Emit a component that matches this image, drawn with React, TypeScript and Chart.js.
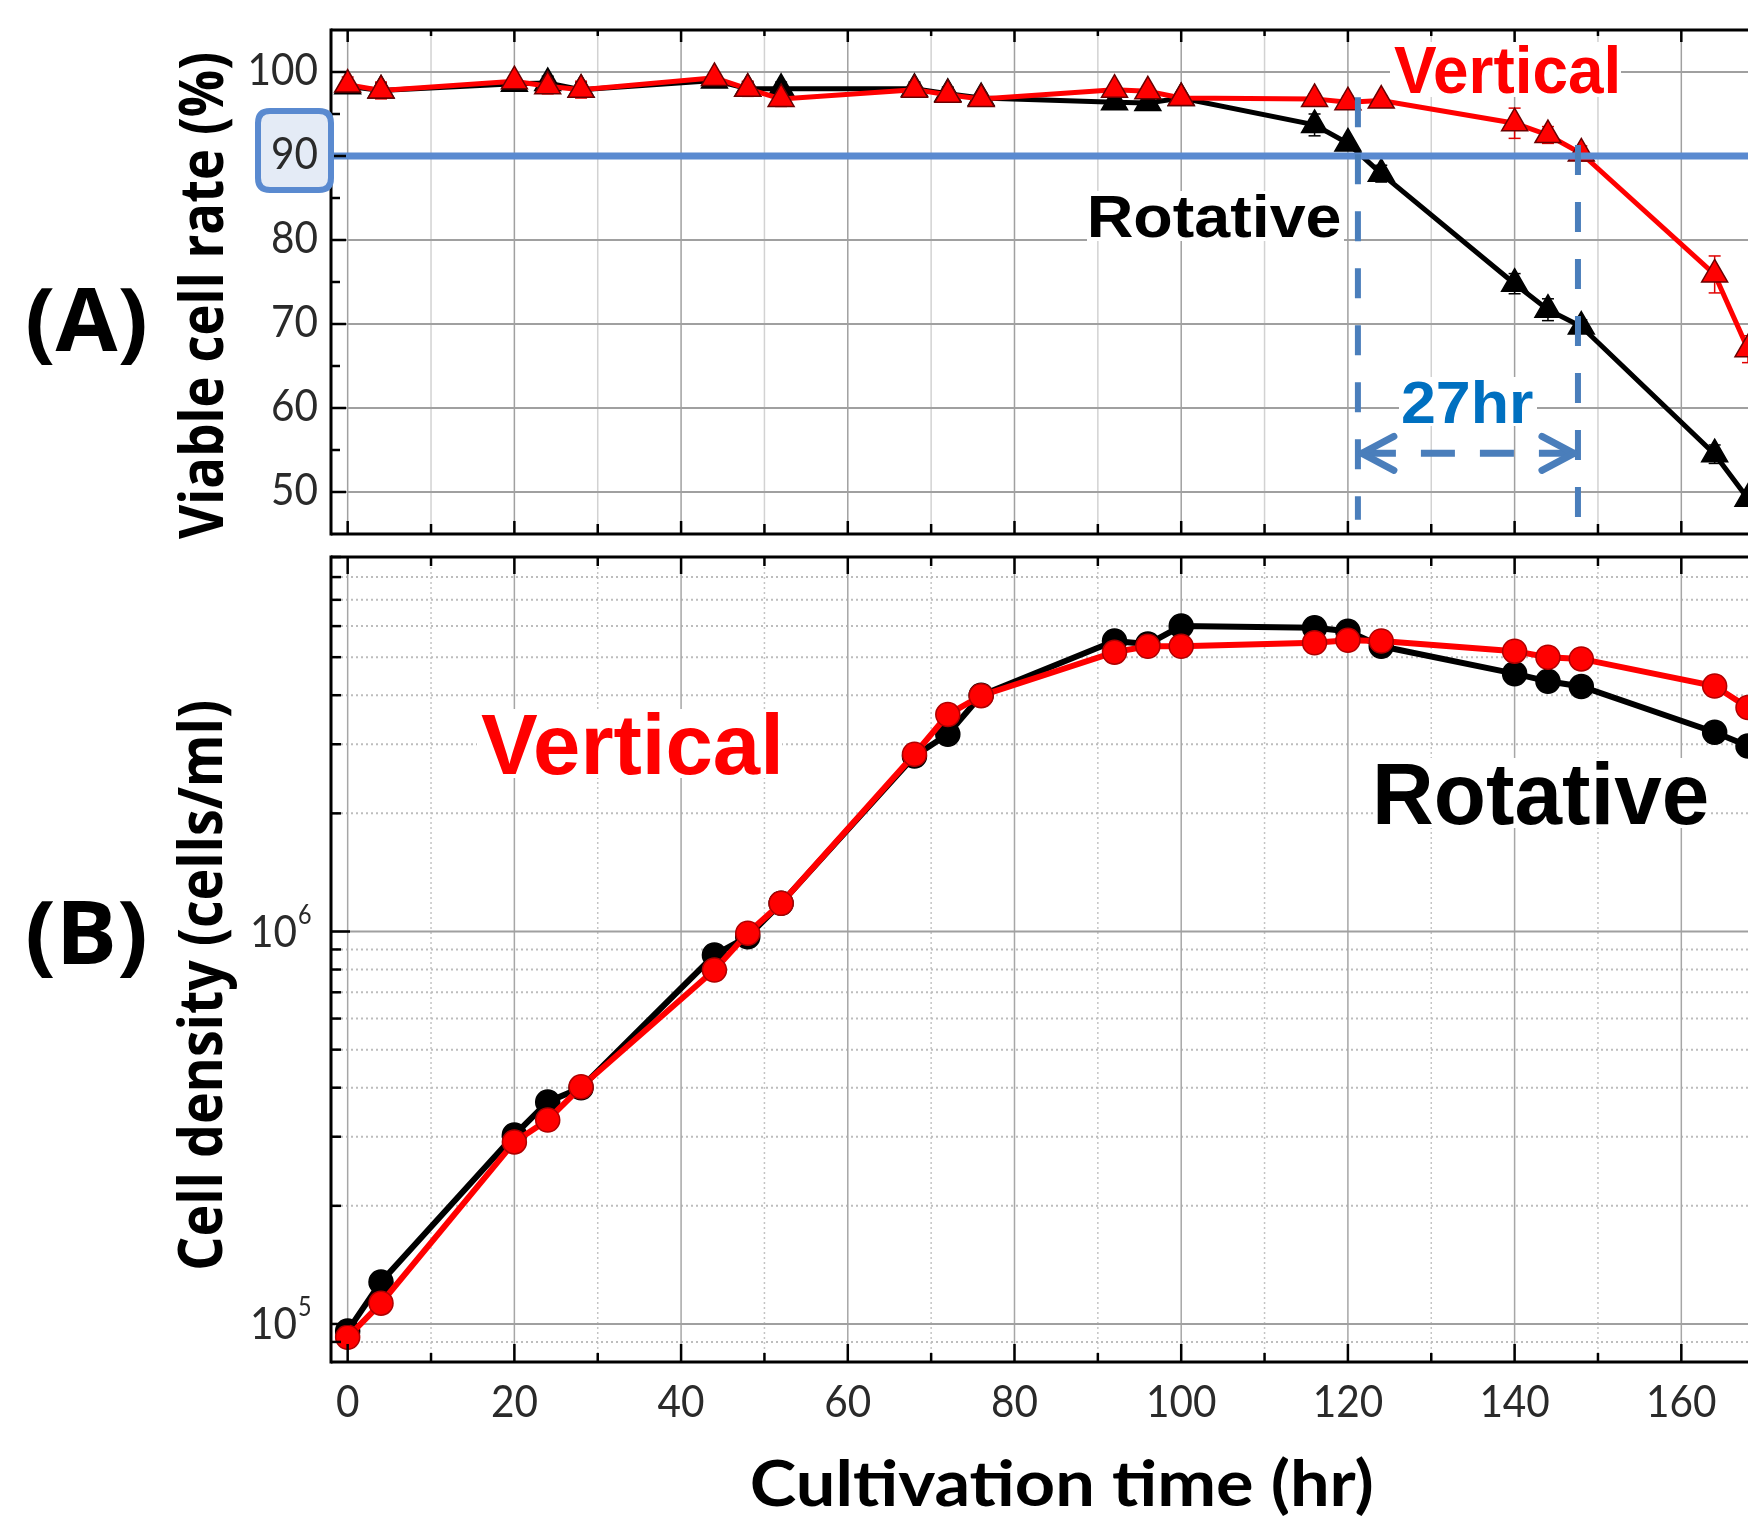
import React, { useEffect, useRef } from "react";
import { Chart, registerables } from "chart.js";

Chart.register(...registerables);

// ---------------- data ----------------
const hours = [0, 4, 20, 24, 28, 44, 48, 52, 68, 72, 76, 92, 96, 100, 116, 120, 124, 140, 144, 148, 164, 168];

const viabVertical = [98.5, 97.8, 98.9, 98.3, 97.9, 99.3, 98.0, 96.8, 97.9, 97.3, 96.8, 97.9, 97.7, 96.9, 96.8, 96.4, 96.6, 93.9, 92.5, 90.3, 75.9, 67.0];
const viabVerticalErr = [0.9, 1.0, 0.5, 0.9, 1.0, 0.6, 0.9, 0.9, 0.6, 0.6, 0.7, 0.5, 0.6, 0.5, 0.6, 0.7, 0.6, 1.8, 1.0, 0.9, 2.2, 1.6];
const viabRotative = [98.3, 97.8, 98.6, 98.7, 97.9, 99.0, 98.0, 98.0, 98.0, 97.4, 96.9, 96.4, 96.3, 96.9, 93.7, 91.5, 87.9, 74.8, 71.7, 69.7, 54.5, 49.2];
const viabRotativeErr = [0.5, 0.9, 0.5, 0.8, 0.8, 0.6, 0.8, 0.8, 0.8, 0.8, 0.6, 0.8, 0.8, 0.5, 1.3, 0.6, 1.0, 1.2, 1.3, 0.8, 1.1, 0.8];

const densVertical = [9.25e4, 1.13e5, 2.91e5, 3.31e5, 4.02e5, 7.98e5, 9.9e5, 1.18e6, 2.83e6, 3.57e6, 3.99e6, 5.15e6, 5.33e6, 5.33e6, 5.44e6, 5.52e6, 5.5e6, 5.18e6, 5.0e6, 4.95e6, 4.22e6, 3.72e6];
const densRotative = [9.6e4, 1.28e5, 3.03e5, 3.68e5, 4.0e5, 8.71e5, 9.7e5, 1.18e6, 2.8e6, 3.18e6, 4.0e6, 5.5e6, 5.4e6, 6.0e6, 5.94e6, 5.82e6, 5.33e6, 4.54e6, 4.34e6, 4.21e6, 3.22e6, 2.97e6];

const xMajorTicks = [0, 20, 40, 60, 80, 100, 120, 140, 160];
const xTickLabels = ["0", "20", "40", "60", "80", "100", "120", "140", "160"];
const xMinorTicks = [10, 30, 50, 70, 90, 110, 130, 150];

const viabTicks = [50, 60, 70, 80, 90, 100];
const viabTickLabels = ["50", "60", "70", "80", "90", "100"];
const viabMinorTicks = [55, 65, 75, 85, 95];

const densMajorTicks = [1e5, 1e6];
const densTickBase = ["10", "10"];
const densTickExp = ["5", "6"];
const densMinorTicks = [9e4, 2e5, 3e5, 4e5, 5e5, 6e5, 7e5, 8e5, 9e5, 2e6, 3e6, 4e6, 5e6, 6e6, 7e6, 8e6, 9e6];

const threshold = 90;
const crossRotative = 121.2;
const crossVertical = 147.6;
const dashTopRotative = 97;
const dashTopVertical = 91.3;
const dashBottom = 46.7;
const arrowLevel = 54.6;
const gapLabel = "27hr";

// ---------------- styling ----------------
const RED = "#ff0000";
const BLACK = "#000000";
const BLUE = "#5a8ad0";
const DASH_BLUE = "#4a7ebb";
const TEXT_BLUE = "#0070c0";
const TOP_B = 545;
const BOLD_SANS = '"Liberation Sans", Arial, sans-serif';
const TITLE_FONT = '"Open Sans", "DejaVu Sans", sans-serif';
const TICK_FONT = 'Lato, "Open Sans", sans-serif';
const TICK_COLOR = "#2a2a2a";

function seg(ctx: CanvasRenderingContext2D, x1: number, y1: number, x2: number, y2: number, color: string, width: number, dash: number[] = [], cap: CanvasLineCap = "butt") {
  ctx.save();
  ctx.strokeStyle = color;
  ctx.lineWidth = width;
  ctx.lineCap = cap;
  ctx.setLineDash(dash);
  ctx.beginPath();
  ctx.moveTo(x1, y1);
  ctx.lineTo(x2, y2);
  ctx.stroke();
  ctx.restore();
}

function fitText(ctx: CanvasRenderingContext2D, text: string, font: string, color: string, x0: number, x1: number, baseline: number, bg = false) {
  ctx.save();
  ctx.font = font;
  ctx.textAlign = "left";
  ctx.textBaseline = "alphabetic";
  const m = ctx.measureText(text);
  const w = m.actualBoundingBoxLeft + m.actualBoundingBoxRight;
  const s = (x1 - x0) / w;
  if (bg) {
    ctx.fillStyle = "#ffffff";
    ctx.fillRect(x0 - 4, baseline - m.actualBoundingBoxAscent - 3, x1 - x0 + 8, m.actualBoundingBoxAscent + m.actualBoundingBoxDescent + 6);
  }
  ctx.translate(x0, baseline);
  ctx.scale(s, 1);
  ctx.fillStyle = color;
  ctx.fillText(text, m.actualBoundingBoxLeft, 0);
  ctx.restore();
}

function fitTextV(ctx: CanvasRenderingContext2D, text: string, font: string, color: string, baseX: number, yStart: number, yEnd: number) {
  ctx.save();
  ctx.font = font;
  ctx.textAlign = "left";
  ctx.textBaseline = "alphabetic";
  const m = ctx.measureText(text);
  const w = m.actualBoundingBoxLeft + m.actualBoundingBoxRight;
  const s = (yStart - yEnd) / w;
  ctx.translate(baseX, yStart);
  ctx.rotate(-Math.PI / 2);
  ctx.scale(s, 1);
  ctx.fillStyle = color;
  ctx.fillText(text, m.actualBoundingBoxLeft, 0);
  ctx.restore();
}

// tick label, slightly condensed like the reference
function tickText(ctx: CanvasRenderingContext2D, text: string, size: number, x: number, y: number, align: "left" | "right" | "center") {
  ctx.save();
  ctx.font = `${size}px ${TICK_FONT}`;
  ctx.fillStyle = TICK_COLOR;
  ctx.textAlign = "left";
  ctx.textBaseline = "alphabetic";
  const sx = 0.9;
  const w = ctx.measureText(text).width * sx;
  const left = align === "left" ? x : align === "right" ? x - w : x - w / 2;
  ctx.translate(left, y);
  ctx.scale(sx, 1);
  ctx.fillText(text, 0, 0);
  ctx.restore();
}

function roundBox(ctx: CanvasRenderingContext2D, x: number, y: number, w: number, h: number, r: number, fill: string, stroke: string, lw: number) {
  ctx.save();
  ctx.beginPath();
  ctx.moveTo(x + r, y);
  ctx.lineTo(x + w - r, y);
  ctx.quadraticCurveTo(x + w, y, x + w, y + r);
  ctx.lineTo(x + w, y + h - r);
  ctx.quadraticCurveTo(x + w, y + h, x + w - r, y + h);
  ctx.lineTo(x + r, y + h);
  ctx.quadraticCurveTo(x, y + h, x, y + h - r);
  ctx.lineTo(x, y + r);
  ctx.quadraticCurveTo(x, y, x + r, y);
  ctx.closePath();
  ctx.fillStyle = fill;
  ctx.fill();
  ctx.strokeStyle = stroke;
  ctx.lineWidth = lw;
  ctx.stroke();
  ctx.restore();
}

// ---------------- panel A plugin ----------------
const panelAPlugin = {
  id: "panelA",
  beforeDatasetsDraw(chart: any) {
    const { ctx, chartArea: ca } = chart;
    const x = chart.scales.x;
    const y = chart.scales.y;
    for (const v of xMinorTicks) {
      const px = x.getPixelForValue(v);
      seg(ctx, px, ca.top, px, ca.bottom, "#d2d2d2", 1.5);
    }
    for (const v of xMajorTicks) {
      const px = x.getPixelForValue(v);
      seg(ctx, px, ca.top, px, ca.bottom, "#a0a0a0", 1.5);
    }
    for (const v of viabTicks) {
      const py = y.getPixelForValue(v);
      seg(ctx, ca.left, py, ca.right, py, "#a0a0a0", 2);
    }
    fitText(ctx, "Vertical", `bold 66px ${BOLD_SANS}`, RED, 1394, 1617, 93, true);
    fitText(ctx, "Rotative", `bold 60px ${BOLD_SANS}`, BLACK, 1091, 1340, 237, true);
    fitText(ctx, gapLabel, `bold 60px ${BOLD_SANS}`, TEXT_BLUE, 1403, 1533, 423, true);
    const sets: [number[], number[], string][] = [
      [viabRotative, viabRotativeErr, "#000000"],
      [viabVertical, viabVerticalErr, "#e00000"],
    ];
    for (const [vals, errs, col] of sets) {
      hours.forEach((h, j) => {
        const px = x.getPixelForValue(h);
        const yt = y.getPixelForValue(vals[j] + errs[j]);
        const yb = y.getPixelForValue(vals[j] - errs[j]);
        seg(ctx, px, yt, px, yb, col, 1.5);
        seg(ctx, px - 6, yt, px + 6, yt, col, 1.5);
        seg(ctx, px - 6, yb, px + 6, yb, col, 1.5);
      });
    }
  },
  afterDatasetsDraw(chart: any) {
    const { ctx, chartArea: ca } = chart;
    const x = chart.scales.x;
    const y = chart.scales.y;
    const py90 = y.getPixelForValue(threshold);
    seg(ctx, ca.left, py90, ca.right, py90, BLUE, 7);
    const xr = x.getPixelForValue(crossRotative);
    const xv = x.getPixelForValue(crossVertical);
    seg(ctx, xr, y.getPixelForValue(dashTopRotative), xr, y.getPixelForValue(dashBottom), DASH_BLUE, 6, [30, 27]);
    seg(ctx, xv, y.getPixelForValue(dashTopVertical), xv, y.getPixelForValue(dashBottom), DASH_BLUE, 6, [30, 27]);
    const ay = y.getPixelForValue(arrowLevel);
    seg(ctx, xr + 4, ay, xv - 4, ay, DASH_BLUE, 7, [34, 25]);
    seg(ctx, xr + 4, ay, xr + 36, ay - 17, DASH_BLUE, 7, [], "round");
    seg(ctx, xr + 4, ay, xr + 36, ay + 17, DASH_BLUE, 7, [], "round");
    seg(ctx, xv - 4, ay, xv - 36, ay - 17, DASH_BLUE, 7, [], "round");
    seg(ctx, xv - 4, ay, xv - 36, ay + 17, DASH_BLUE, 7, [], "round");

    // frame
    seg(ctx, ca.left, ca.top, ca.right, ca.top, "#000", 3);
    seg(ctx, ca.left, ca.bottom, ca.right, ca.bottom, "#000", 3);
    seg(ctx, ca.left, ca.top - 1.5, ca.left, ca.bottom + 1.5, "#000", 3);
    // ticks
    for (const v of xMajorTicks) {
      const px = x.getPixelForValue(v);
      seg(ctx, px, ca.top, px, ca.top + 12, "#000", 2.5);
      seg(ctx, px, ca.bottom, px, ca.bottom - 13, "#000", 2.5);
    }
    for (const v of xMinorTicks) {
      const px = x.getPixelForValue(v);
      seg(ctx, px, ca.top, px, ca.top + 6, "#000", 2.5);
      seg(ctx, px, ca.bottom, px, ca.bottom - 10, "#000", 2.5);
    }
    for (const v of viabTicks) {
      const py = y.getPixelForValue(v);
      seg(ctx, ca.left, py, ca.left + 15, py, "#000", 2.5);
    }
    for (const v of viabMinorTicks) {
      const py = y.getPixelForValue(v);
      seg(ctx, ca.left, py, ca.left + 9, py, "#000", 2.5);
    }
    roundBox(ctx, 258, py90 - 45, 73, 79, 12, "#e4ebf6", BLUE, 6);
  },
  afterDraw(chart: any) {
    const { ctx } = chart;
    const y = chart.scales.y;
    viabTicks.forEach((v, i) => {
      tickText(ctx, viabTickLabels[i], 45, 318, y.getPixelForValue(v) + 13, "right");
    });
    fitText(ctx, "(A)", `bold 88px ${TITLE_FONT}`, BLACK, 28, 145, 351);
    fitTextV(ctx, "Viable cell rate (%)", `bold 60px ${TITLE_FONT}`, BLACK, 223, 539, 54);
  },
};

// ---------------- panel B plugin ----------------
const panelBPlugin = {
  id: "panelB",
  beforeDatasetsDraw(chart: any) {
    const { ctx, chartArea: ca } = chart;
    const x = chart.scales.x;
    const y = chart.scales.y;
    for (const v of xMinorTicks) {
      const px = x.getPixelForValue(v);
      seg(ctx, px, ca.top, px, ca.bottom, "#c4c4c4", 1.5, [2, 3]);
    }
    for (const v of densMinorTicks) {
      const py = y.getPixelForValue(v);
      seg(ctx, ca.left, py, ca.right, py, "#bdbdbd", 2, [2, 3]);
    }
    for (const v of xMajorTicks) {
      const px = x.getPixelForValue(v);
      seg(ctx, px, ca.top, px, ca.bottom, "#a6a6a6", 1.5);
    }
    for (const v of densMajorTicks) {
      const py = y.getPixelForValue(v);
      seg(ctx, ca.left, py, ca.right, py, "#a0a0a0", 2);
    }
    ctx.save();
    ctx.translate(0, -TOP_B);
    fitText(ctx, "Vertical", `bold 86px ${BOLD_SANS}`, RED, 481, 778, 774, true);
    fitText(ctx, "Rotative", `bold 87px ${BOLD_SANS}`, BLACK, 1377, 1707, 824, true);
    ctx.restore();
  },
  afterDatasetsDraw(chart: any) {
    const { ctx, chartArea: ca } = chart;
    const x = chart.scales.x;
    const y = chart.scales.y;
    seg(ctx, ca.left, ca.top, ca.right, ca.top, "#000", 3);
    seg(ctx, ca.left, ca.bottom, ca.right, ca.bottom, "#000", 3);
    seg(ctx, ca.left, ca.top - 1.5, ca.left, ca.bottom + 1.5, "#000", 3);
    for (const v of xMajorTicks) {
      const px = x.getPixelForValue(v);
      seg(ctx, px, ca.top, px, ca.top + 17, "#000", 2.5);
      seg(ctx, px, ca.bottom, px, ca.bottom - 18, "#000", 2.5);
    }
    for (const v of xMinorTicks) {
      const px = x.getPixelForValue(v);
      seg(ctx, px, ca.top, px, ca.top + 9, "#000", 2.5);
      seg(ctx, px, ca.bottom, px, ca.bottom - 9, "#000", 2.5);
    }
    for (const v of densMajorTicks) {
      const py = y.getPixelForValue(v);
      seg(ctx, ca.left, py, ca.left + 19, py, "#000", 2.5);
    }
    for (const v of densMinorTicks) {
      const py = y.getPixelForValue(v);
      seg(ctx, ca.left, py, ca.left + 10, py, "#000", 2.5);
    }
  },
  afterDraw(chart: any) {
    const { ctx } = chart;
    const x = chart.scales.x;
    const y = chart.scales.y;
    densMajorTicks.forEach((v, i) => {
      const py = y.getPixelForValue(v);
      tickText(ctx, densTickBase[i], 45, 297, py + 15, "right");
      tickText(ctx, densTickExp[i], 26, 298, py - 8, "left");
    });
    ctx.save();
    ctx.translate(0, -TOP_B);
    xMajorTicks.forEach((v, i) => {
      tickText(ctx, xTickLabels[i], 45, x.getPixelForValue(v), 1417, "center");
    });
    fitText(ctx, "(B)", `bold 88px ${TITLE_FONT}`, BLACK, 28, 145, 964);
    fitTextV(ctx, "Cell density (cells/ml)", `bold 60px ${TITLE_FONT}`, BLACK, 222, 1268, 702);
    fitText(ctx, "Cultivation time (hr)", `bold 64px Lato, "Open Sans", sans-serif`, BLACK, 752, 1372, 1506);
    ctx.restore();
  },
};

function baseOptions(padding: any, yScale: any) {
  return {
    animation: false as const,
    responsive: false,
    maintainAspectRatio: false,
    devicePixelRatio: 1,
    events: [] as any[],
    layout: { padding, autoPadding: false },
    plugins: { legend: { display: false }, tooltip: { enabled: false } },
    scales: {
      x: { type: "linear" as const, min: -2, max: 168, display: false },
      y: yScale,
    },
  };
}

export default function App() {
  const refA = useRef<HTMLCanvasElement>(null);
  const refB = useRef<HTMLCanvasElement>(null);

  useEffect(() => {
    const chartA = new Chart(refA.current as HTMLCanvasElement, {
      type: "line",
      data: {
        datasets: [
          {
            label: "Vertical",
            data: hours.map((h, i) => ({ x: h, y: viabVertical[i] })),
            borderColor: RED,
            backgroundColor: RED,
            borderWidth: 5,
            pointStyle: "triangle",
            pointRadius: 15,
            pointBackgroundColor: RED,
            pointBorderColor: "#6a0000",
            pointBorderWidth: 1.5,
            tension: 0,
          },
          {
            label: "Rotative",
            data: hours.map((h, i) => ({ x: h, y: viabRotative[i] })),
            borderColor: BLACK,
            backgroundColor: BLACK,
            borderWidth: 5,
            pointStyle: "triangle",
            pointRadius: 15,
            pointBackgroundColor: BLACK,
            pointBorderColor: BLACK,
            pointBorderWidth: 1.5,
            tension: 0,
          },
        ],
      },
      options: baseOptions({ left: 331, top: 30, right: 0, bottom: 11 }, { type: "linear", min: 45, max: 105, display: false }) as any,
      plugins: [panelAPlugin],
    });

    const chartB = new Chart(refB.current as HTMLCanvasElement, {
      type: "line",
      data: {
        datasets: [
          {
            label: "Vertical",
            data: hours.map((h, i) => ({ x: h, y: densVertical[i] })),
            borderColor: RED,
            backgroundColor: RED,
            borderWidth: 6,
            pointStyle: "circle",
            pointRadius: 12,
            pointBackgroundColor: RED,
            pointBorderColor: "#b00000",
            pointBorderWidth: 1.5,
            tension: 0,
          },
          {
            label: "Rotative",
            data: hours.map((h, i) => ({ x: h, y: densRotative[i] })),
            borderColor: BLACK,
            backgroundColor: BLACK,
            borderWidth: 6,
            pointStyle: "circle",
            pointRadius: 12,
            pointBackgroundColor: BLACK,
            pointBorderColor: BLACK,
            pointBorderWidth: 1.5,
            tension: 0,
          },
        ],
      },
      options: baseOptions({ left: 331, top: 12, right: 0, bottom: 169 }, { type: "logarithmic", min: 8e4, max: 9e6, display: false }) as any,
      plugins: [panelBPlugin],
    });

    return () => {
      chartA.destroy();
      chartB.destroy();
    };
  }, []);

  return (
    <div style={{ position: "absolute", left: 0, top: 0, width: 1748, height: 1531, overflow: "hidden", background: "#ffffff" }}>
      <canvas ref={refA} width={1748} height={TOP_B} style={{ position: "absolute", left: 0, top: 0, width: 1748, height: TOP_B }} />
      <canvas ref={refB} width={1748} height={1531 - TOP_B} style={{ position: "absolute", left: 0, top: TOP_B, width: 1748, height: 1531 - TOP_B }} />
    </div>
  );
}
